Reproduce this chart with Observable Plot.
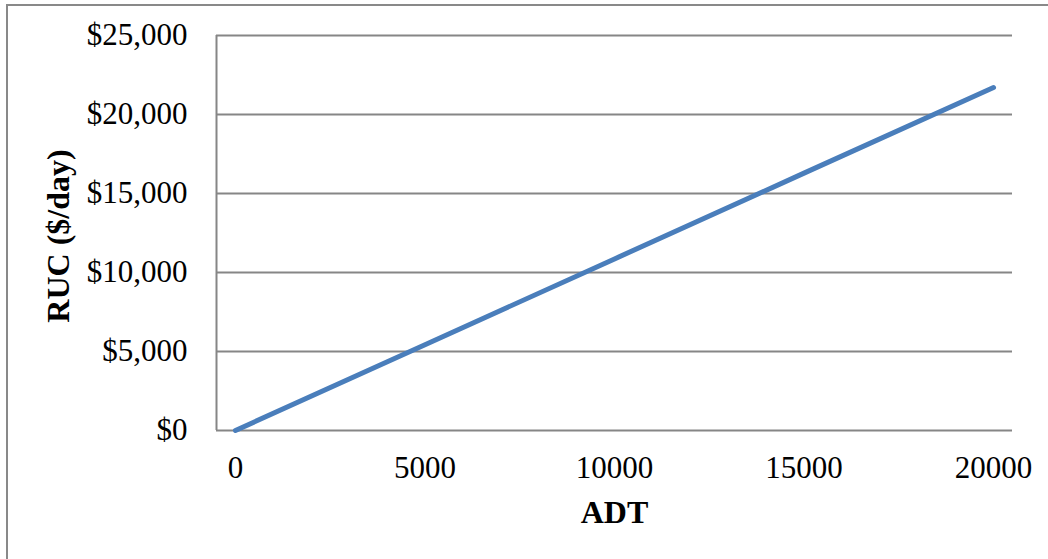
<!DOCTYPE html>
<html>
<head>
<meta charset="utf-8">
<script src="https://cdn.jsdelivr.net/npm/d3@7"></script>
<script src="https://cdn.jsdelivr.net/npm/@observablehq/plot@0.6"></script>
<style>
  html, body { margin: 0; padding: 0; background: #fff; }
  #wrap { position: relative; width: 1048px; height: 559px; overflow: hidden; }
  #border { position: absolute; left: 6px; top: 4px; width: 1100px; height: 600px; border: 2px solid #898989; box-sizing: border-box; }
  #chart { position: absolute; left: 0; top: 0; }
  #chart svg { background: transparent; }
</style>
</head>
<body>
<div id="wrap"><div id="border"></div><div id="chart"></div></div>
<script>
const adt = [0, 5000, 10000, 15000, 20000];
const ruc = [0, 5430, 10860, 16290, 21710];
const yTicks = [0, 5000, 10000, 15000, 20000, 25000];
const xTicks = [0, 5000, 10000, 15000, 20000];

const data = adt.map((a, i) => ({adt: a, ruc: ruc[i]}));
const fmtY = d => "$" + d3.format(",")(d);

const chart = Plot.plot({
  width: 1048,
  height: 559,
  marginLeft: 216,
  marginRight: 36,
  marginTop: 35,
  marginBottom: 129,
  style: {fontFamily: "'Liberation Serif', 'Times New Roman', serif", background: "transparent", color: "#000"},
  x: {domain: [-500, 20500]},
  y: {domain: [0, 25000]},
  marks: [
    Plot.ruleY(yTicks, {stroke: "#868686", strokeWidth: 2}),
    Plot.ruleX([-500], {stroke: "#868686", strokeWidth: 2}),
    Plot.line(data, {x: "adt", y: "ruc", stroke: "#4a7ebb", strokeWidth: 5, strokeLinecap: "round", strokeLinejoin: "round"}),
    Plot.axisY({ticks: yTicks, tickFormat: fmtY, tickSize: 0, tickPadding: 29, fontSize: 31, label: null}),
    Plot.axisX({ticks: xTicks, tickFormat: d => String(d), tickSize: 0, tickPadding: 25, fontSize: 31, label: null}),
    Plot.text(["RUC ($/day)"], {frameAnchor: "left", textAnchor: "middle", lineAnchor: "middle", dx: -158, dy: 3, rotate: -90, fontWeight: "bold", fontSize: 32, fill: "#000"}),
    Plot.text(["ADT"], {frameAnchor: "bottom", textAnchor: "middle", lineAnchor: "middle", dy: 82, fontWeight: "bold", fontSize: 32, fill: "#000"})
  ]
});
document.getElementById("chart").appendChild(chart);
</script>
</body>
</html>
